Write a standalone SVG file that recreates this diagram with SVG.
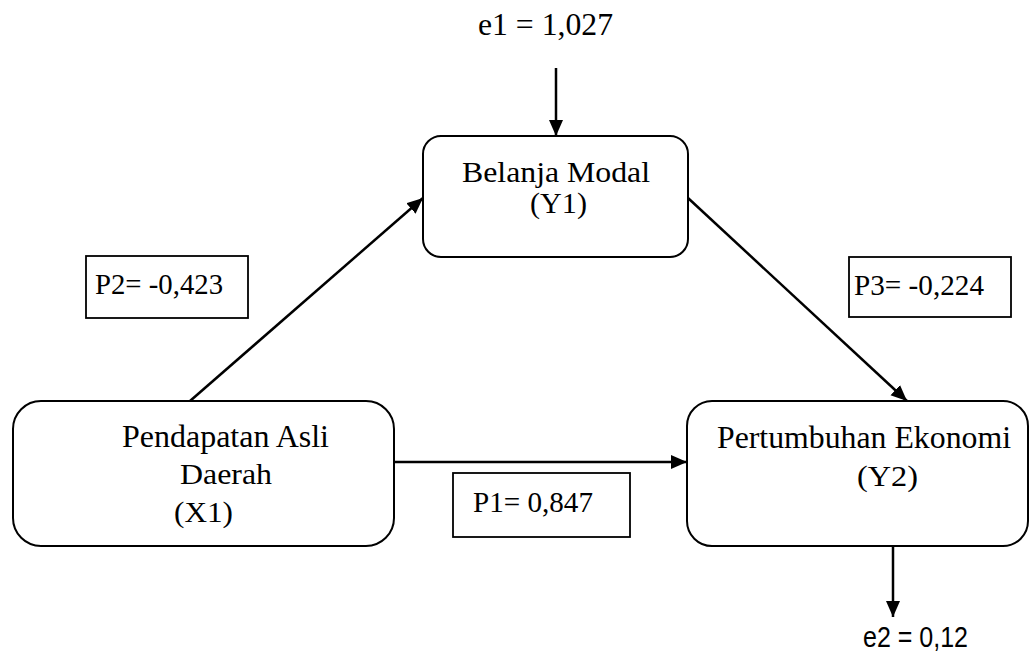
<svg xmlns="http://www.w3.org/2000/svg" width="1029" height="652" viewBox="0 0 1029 652">
<style>
.node{fill:#fff;stroke:#000;stroke-width:2}
.lbl{fill:#fff;stroke:#000;stroke-width:1.8}
.t{font-family:"Liberation Serif","Times New Roman",serif;font-size:30px;fill:#000}
.b{font-size:31.5px}
.s{font-family:"Liberation Sans Narrow","Liberation Sans",Arial,sans-serif;font-size:29px;fill:#000}
.c{stroke:#000;stroke-width:2.5;fill:none;marker-end:url(#arr)}
</style>
<defs>
<marker id="arr" markerUnits="userSpaceOnUse" markerWidth="17" markerHeight="15" refX="16" refY="7" orient="auto">
<path d="M0,0 L16,7 L0,14 z" fill="#000"/>
</marker>
</defs>
<rect width="1029" height="652" fill="#fff"/>
<g id="connectors">
<line class="c" x1="556" y1="68" x2="556" y2="136"/>
<line class="c" x1="190" y1="401" x2="423" y2="198"/>
<line class="c" x1="688" y1="198" x2="907" y2="401"/>
<line class="c" x1="394" y1="462" x2="687" y2="462"/>
<line class="c" x1="893" y1="546" x2="893" y2="617"/>
</g>
<g id="e1"><text class="t b" x="478" y="35" textLength="135" lengthAdjust="spacingAndGlyphs">e1 = 1,027</text></g>
<g id="belanja">
<rect class="node" x="423" y="136" width="265" height="121" rx="18"/>
<text class="t" x="462" y="182" textLength="188" lengthAdjust="spacingAndGlyphs">Belanja Modal</text>
<text class="t" x="530" y="213" textLength="57" lengthAdjust="spacingAndGlyphs">(Y1)</text>
</g>
<g id="pad">
<rect class="node" x="13" y="401" width="381" height="145" rx="28"/>
<text class="t b" x="122" y="447" textLength="207" lengthAdjust="spacingAndGlyphs">Pendapatan Asli</text>
<text class="t" x="180" y="484" textLength="92" lengthAdjust="spacingAndGlyphs">Daerah</text>
<text class="t" x="174" y="522" textLength="59" lengthAdjust="spacingAndGlyphs">(X1)</text>
</g>
<g id="pertumbuhan">
<rect class="node" x="687" y="401" width="341" height="145" rx="25"/>
<text class="t b" x="717" y="448" textLength="294" lengthAdjust="spacingAndGlyphs">Pertumbuhan Ekonomi</text>
<text class="t" x="857" y="486" textLength="61" lengthAdjust="spacingAndGlyphs">(Y2)</text>
</g>
<g id="p2">
<rect class="lbl" x="86" y="256" width="162" height="62"/>
<text class="t" x="95" y="294" textLength="128" lengthAdjust="spacingAndGlyphs">P2= -0,423</text>
</g>
<g id="p3">
<rect class="lbl" x="849" y="257" width="162" height="60"/>
<text class="t" x="854" y="295" textLength="130" lengthAdjust="spacingAndGlyphs">P3= -0,224</text>
</g>
<g id="p1">
<rect class="lbl" x="453" y="473" width="177" height="64"/>
<text class="t" x="473" y="512" textLength="120" lengthAdjust="spacingAndGlyphs">P1= 0,847</text>
</g>
<g id="e2"><text class="s" x="863" y="647" textLength="105" lengthAdjust="spacingAndGlyphs">e2 = 0,12</text></g>
</svg>
